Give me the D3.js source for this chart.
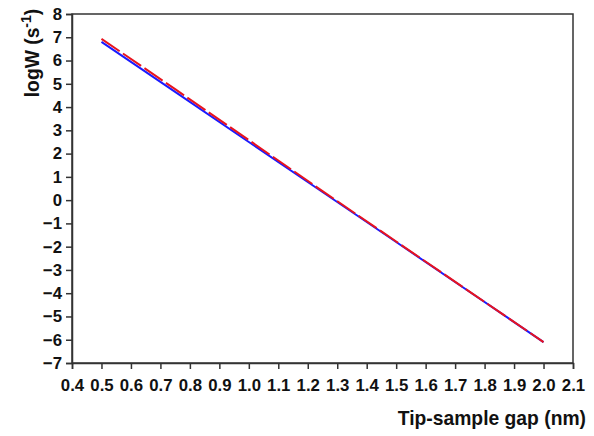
<!doctype html>
<html lang="en">
<head>
<meta charset="utf-8" />
<title>logW vs gap</title>
<script src="https://d3js.org/d3.v7.min.js"></script>
<style>
  body { margin: 0; background: #fff; }
  text { font-family: "Liberation Sans", Arial, sans-serif; font-weight: bold; fill: #111; }
</style>
</head>
<body>
<div id="chart"></div>
<script>
// data
const gap = [0.5, 0.75, 1.0, 1.25, 1.5, 1.75, 2.0];
const logWBlue = [6.8, 4.65, 2.5, 0.35, -1.8, -3.95, -6.1];
const logWRed = [6.93, 4.77, 2.58, 0.39, -1.78, -3.94, -6.1];
const xTicks = d3.range(0.4, 2.1001, 0.1);
const yTicks = d3.range(-7, 8.001, 1);

const width = 594, height = 436;
const m = { left: 72, right: 21, top: 14, bottom: 73 };

const svg = d3.select("#chart").append("svg")
  .attr("width", width).attr("height", height);

const x = d3.scaleLinear().domain([0.4, 2.1]).range([m.left, width - m.right]);
const y = d3.scaleLinear().domain([-7, 8]).range([height - m.bottom, m.top]);

// frame
svg.append("rect")
  .attr("x", x(0.4)).attr("y", y(8))
  .attr("width", x(2.1) - x(0.4)).attr("height", y(-7) - y(8))
  .attr("fill", "none").attr("stroke", "#333").attr("stroke-width", 1.5);

const xAxis = svg.append("g")
  .attr("transform", `translate(0,${y(-7)})`)
  .call(d3.axisBottom(x).tickValues(xTicks).tickFormat(d3.format(".1f")).tickSize(6).tickPadding(10));
const yAxis = svg.append("g")
  .attr("transform", `translate(${x(0.4)},0)`)
  .call(d3.axisLeft(y).tickValues(yTicks).tickFormat(d3.format("d")).tickSize(6).tickPadding(4));

[xAxis, yAxis].forEach(a => {
  a.attr("font-size", 16.8).attr("font-family", "Liberation Sans, Arial, sans-serif").attr("font-weight", "bold");
  a.select(".domain").attr("stroke", "#333").attr("stroke-width", 1.5);
  a.selectAll(".tick line").attr("stroke", "#333").attr("stroke-width", 1.5);
  a.selectAll(".tick text").attr("fill", "#111");
});

const line = d3.line().x(d => x(d[0])).y(d => y(d[1]));

svg.append("path")
  .datum(d3.zip(gap, logWBlue))
  .attr("d", line)
  .attr("fill", "none").attr("stroke", "#1a1aff").attr("stroke-width", 2);

svg.append("path")
  .datum(d3.zip(gap, logWRed))
  .attr("d", line)
  .attr("fill", "none").attr("stroke", "#e8141e").attr("stroke-width", 2)
  .attr("stroke-dasharray", "22,4");

// axis titles
svg.append("text")
  .attr("x", 586).attr("y", 425)
  .attr("text-anchor", "end")
  .style("font-size", "19.3px")
  .text("Tip-sample gap (nm)");

const yt = svg.append("text")
  .attr("transform", "translate(39,53) rotate(-90)")
  .attr("text-anchor", "middle")
  .style("font-size", "19.3px");
yt.append("tspan").text("logW (s");
yt.append("tspan").attr("dy", -8).style("font-size", "14px").text("-1");
yt.append("tspan").attr("dy", 8).text(")");
</script>
</body>
</html>
